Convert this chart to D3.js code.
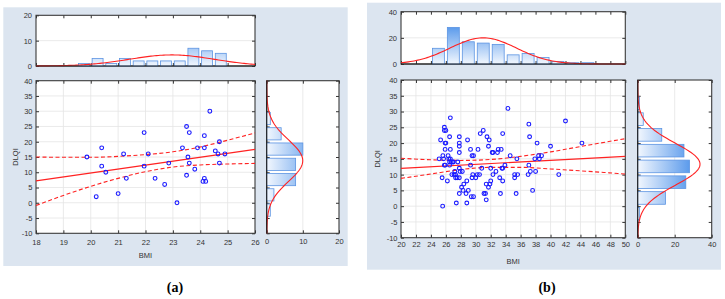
<!DOCTYPE html>
<html>
<head>
<meta charset="utf-8">
<script src="https://cdn.jsdelivr.net/npm/d3@7"></script>
<style>
body { margin: 0; background: #fff; }
svg { display: block; font-family: "Liberation Sans", Arial, sans-serif; }
.lbl { font-size: 7.5px; fill: #333; }
.caption { font-family: "Liberation Serif", "Times New Roman", serif; font-size: 14px; font-weight: bold; fill: #000; }
</style>
</head>
<body>
<script>
// ---- panel (a) ----
var bmiA = [19.86, 20.2, 20.4, 20.4, 20.55, 21.0, 21.2, 21.3, 21.95, 21.95, 22.1, 22.35, 22.7, 22.85, 23.15, 23.35, 23.5,
    23.5, 23.55, 23.6, 23.6, 23.8, 23.9, 24.15, 24.15, 24.15, 24.1, 24.2, 24.35, 24.55, 24.7, 24.65, 24.7, 24.9];
var dlqiA = [15, 2, 18, 12, 10, 3, 16, 8, 23, 12, 16, 8, 6, 13, 0, 18, 25,
    9, 15, 23, 13, 11, 18, 22, 18, 8, 7, 7, 30, 17, 20, 16, 13, 16];
var bmiBinsA = [19.5, 20, 20.5, 21, 21.5, 22, 22.5, 23, 23.5, 24, 24.5];
var bmiCountsA = [1, 3, 1, 3, 2, 2, 2, 2, 7, 6, 5];
var dlqiBinsA = [-5, 0, 5, 10, 15, 20, 25];
var dlqiCountsA = [1, 2, 8, 8, 10, 4, 1];
var fitA = [[18, 7.2], [26, 17.5]];
var ciXA = [18, 19, 20, 21, 22, 23, 24, 25, 26];
var ciHiA = [15.0, 14.9, 14.9, 15.2, 15.8, 16.7, 18.3, 20.5, 22.9];
var ciLoA = [-0.9, 2.4, 5.4, 8.0, 10.2, 11.7, 12.4, 12.7, 12.9];
var normBmiA = [22.96, 1.55];   // mean, sd
var normDlqiA = [13.8, 6.8];

// ---- panel (b) ----
var bmiB = [25.57, 25.3, 25.5, 25.1, 25.6, 25.8, 25.8, 26.0, 25.9, 26.0, 25.9, 25.8, 25.9, 25.7, 26.2, 26.3, 26.4, 26.5, 26.6, 26.6,
    26.6, 26.5, 26.7, 26.5, 26.9, 26.8, 27.0, 27.1, 27.2, 27.3, 27.3, 27.4, 27.5, 27.6, 27.8, 27.8, 27.8, 27.8, 27.8, 27.8,
    27.8, 27.9, 28.1, 28.2, 28.3, 28.4, 28.7, 28.8, 28.8, 28.9, 29.0, 29.3, 29.3, 29.5, 29.5, 29.4, 29.6, 29.7, 29.7, 30.0,
    30.2, 30.3, 30.5, 30.6, 30.8, 31.0, 31.1, 31.3, 31.4, 31.4, 31.5, 31.7, 31.7, 31.8, 31.9, 32.0, 32.0, 32.2, 32.3, 32.3,
    32.7, 32.9, 33.0, 33.2, 33.3, 33.4, 33.5, 33.6, 33.6, 33.6, 33.9, 34.3, 34.6, 35.2, 35.2, 35.4, 35.5, 35.6, 37.1, 37.2,
    37.1, 37.0, 37.3, 37.6, 37.9, 38.0, 38.2, 38.4, 38.5, 38.8, 40.0, 41.1, 42.0, 44.2];
var dlqiB = [0, 21, 9, 15, 16, 25, 24, 24, 20, 20, 18, 13, 13, 15, 8, 16, 15, 22, 28, 18,
    15, 14, 14, 13, 14, 10, 14, 10, 11, 10, 9, 1, 9, 14, 4, 17, 19, 20, 22, 9,
    12, 11, 6, 11, 5, 7, 4, 1, 8, 21, 5, 13, 18, 16, 9, 3, 10, 16, 3, 9,
    10, 18, 10, 23, 12, 24, 4, 4, 7, 2, 22, 6, 19, 21, 7, 12, 8, 17, 17, 10,
    11, 17, 18, 9, 4, 18, 12, 23, 8, 12, 13, 31, 16, 10, 9, 4, 15, 10, 26, 22,
    13, 10, 11, 5, 15, 11, 20, 16, 15, 16, 19, 10, 27, 20];
var bmiBinsB = [24, 26, 28, 30, 32, 34, 36, 38, 40, 42, 44];
var bmiCountsB = [12, 28, 17, 16, 15, 7, 8, 5, 2, 1, 1];
var dlqiBinsB = [-5, 0, 5, 10, 15, 20, 25, 30];
var dlqiCountsB = [1, 15, 26, 28, 25, 13, 3, 1];
var fitB = [[20, 12.0], [50, 15.8]];
var ciXB = [20, 24, 28, 32, 36, 40, 44, 50];
var ciHiB = [15.2, 14.7, 14.5, 14.8, 15.8, 17.2, 18.9, 21.4];
var ciLoB = [8.8, 10.2, 11.6, 12.3, 12.3, 11.8, 11.2, 10.2];
var normBmiB = [31.0, 4.47];
var normDlqiB = [13.3, 6.63];

var svg = d3.select('body').append('svg')
    .attr('width', 725)
    .attr('height', 299);
var defs = svg.append('defs');

function density(norm, n, bw) {
    return function (v) {
        return n * bw / (norm[1] * Math.sqrt(2 * Math.PI)) * Math.exp(-0.5 * Math.pow((v - norm[0]) / norm[1], 2));
    };
}

function fmt(d) { return String(d); }

// white plot box with grid, inward ticks on all sides and a border
function frame(g, box, xs, ys, o) {
    g.append('rect')
        .attr('x', box.x0).attr('y', box.y0)
        .attr('width', box.x1 - box.x0).attr('height', box.y1 - box.y0)
        .attr('fill', '#fff');

    g.selectAll(null).data(o.xGrid || []).enter().append('line')
        .attr('x1', xs).attr('x2', xs).attr('y1', box.y0).attr('y2', box.y1)
        .attr('stroke', '#e4e4e4').attr('stroke-width', 0.8);
    g.selectAll(null).data(o.yGrid || []).enter().append('line')
        .attr('y1', ys).attr('y2', ys).attr('x1', box.x0).attr('x2', box.x1)
        .attr('stroke', '#e4e4e4').attr('stroke-width', 0.8);

    var axes = [
        [d3.axisBottom(xs), 'translate(0,' + box.y1 + ')', o.xTicks, o.xLabels, o.xPad],
        [d3.axisTop(xs), 'translate(0,' + box.y0 + ')', o.xTicks, false, 0],
        [d3.axisLeft(ys), 'translate(' + box.x0 + ',0)', o.yTicks, o.yLabels, o.yPad],
        [d3.axisRight(ys), 'translate(' + box.x1 + ',0)', o.yTicks, false, 0]
    ];
    axes.forEach(function (a) {
        var ax = g.append('g')
            .attr('transform', a[1])
            .call(a[0].tickValues(a[2]).tickSize(-3).tickPadding(a[4] || 3).tickFormat(a[3] ? fmt : ''));
        ax.select('.domain').remove();
        ax.selectAll('line').attr('stroke', '#333');
        ax.selectAll('text').attr('class', 'lbl').attr('fill', null).style('font-family', null).style('font-size', null);
        ax.attr('font-family', null).attr('font-size', null);
    });

    g.append('rect')
        .attr('x', box.x0).attr('y', box.y0)
        .attr('width', box.x1 - box.x0).attr('height', box.y1 - box.y0)
        .attr('fill', 'none').attr('stroke', '#3a3a3a').attr('stroke-width', 1.1);
}

function gradient(id, x1, y1, x2, y2) {
    var lg = defs.append('linearGradient').attr('id', id)
        .attr('gradientUnits', 'userSpaceOnUse')
        .attr('x1', x1).attr('y1', y1).attr('x2', x2).attr('y2', y2);
    lg.append('stop').attr('offset', 0).attr('stop-color', '#1c74e4');
    lg.append('stop').attr('offset', 1).attr('stop-color', '#f2f7fe');
}

function panel(c) {
    var g = svg.append('g');
    g.append('rect')
        .attr('x', c.bg[0]).attr('y', c.bg[1]).attr('width', c.bg[2]).attr('height', c.bg[3])
        .attr('fill', '#dce5f0');

    var xs = d3.scaleLinear().domain(c.xDomain).range([c.main.x0, c.main.x1]);
    var ys = d3.scaleLinear().domain([-10, 40]).range([c.main.y1, c.main.y0]);
    var hy = d3.scaleLinear().domain([0, c.topMax]).range([c.top.y1, c.top.y0]);
    var vx = d3.scaleLinear().domain([0, c.rightMax]).range([c.right.x0, c.right.x1]);
    var yTicks = d3.range(-10, 41, 5);

    // ---- top histogram (BMI) ----
    var gt = g.append('g');
    frame(gt, c.top, xs, hy, {
        xTicks: c.xTicks, xLabels: false,
        yTicks: c.topTicks, yLabels: true, yPad: 4,
        yGrid: c.topTicks.slice(1, -1)
    });
    gradient(c.id + 'gt', 0, hy(c.topMax), 0, hy(0));
    var bwT = c.bmiBins[1] - c.bmiBins[0];
    gt.selectAll('.bar').data(c.bmiBins).enter().append('rect')
        .attr('x', function (d) { return xs(d + bwT * 0.1); })
        .attr('width', function (d) { return xs(d + bwT * 0.9) - xs(d + bwT * 0.1); })
        .attr('y', function (d, i) { return hy(c.bmiCounts[i]); })
        .attr('height', function (d, i) { return hy(0) - hy(c.bmiCounts[i]); })
        .attr('fill', 'url(#' + c.id + 'gt)')
        .attr('stroke', '#5c94e2').attr('stroke-width', 0.8);
    var nT = d3.sum(c.bmiCounts);
    var fT = density(c.normBmi, nT, bwT);
    gt.append('path')
        .datum(d3.range(c.xDomain[0], c.xDomain[1] + 0.001, (c.xDomain[1] - c.xDomain[0]) / 120))
        .attr('d', d3.line().x(function (d) { return xs(d); }).y(function (d) { return hy(fT(d)); }))
        .attr('fill', 'none').attr('stroke', '#f22').attr('stroke-width', 1.1);
    gt.append('line')
        .attr('x1', c.top.x0).attr('x2', c.top.x1).attr('y1', c.top.y1).attr('y2', c.top.y1)
        .attr('stroke', '#222').attr('stroke-width', 1.2);

    // ---- scatter ----
    var gm = g.append('g');
    frame(gm, c.main, xs, ys, {
        xTicks: c.xTicks, xLabels: true, xPad: c.xPad,
        yTicks: yTicks, yLabels: true, yPad: 3.5,
        xGrid: c.xTicks.slice(1, -1), yGrid: yTicks.slice(1, -1)
    });
    var line = d3.line().x(function (d) { return xs(d[0]); }).y(function (d) { return ys(d[1]); });
    var band = d3.line().curve(d3.curveMonotoneX)
        .x(function (d) { return xs(d[0]); }).y(function (d) { return ys(d[1]); });
    [c.ciHi, c.ciLo].forEach(function (arr) {
        gm.append('path')
            .datum(c.ciX.map(function (x, i) { return [x, arr[i]]; }))
            .attr('d', band)
            .attr('fill', 'none').attr('stroke', '#f22').attr('stroke-width', 1.1)
            .attr('stroke-dasharray', '4,2.5');
    });
    gm.append('path').datum(c.fit).attr('d', line)
        .attr('fill', 'none').attr('stroke', '#f22').attr('stroke-width', 1.2);
    gm.selectAll('circle').data(c.bmi).enter().append('circle')
        .attr('cx', function (d) { return xs(d); })
        .attr('cy', function (d, i) { return ys(c.dlqi[i]); })
        .attr('r', 1.9)
        .attr('fill', 'none').attr('stroke', '#1a1aff').attr('stroke-width', 1.1);

    gm.append('text').attr('class', 'lbl')
        .attr('x', (c.main.x0 + c.main.x1) / 2).attr('y', c.bmiTitleY)
        .style('text-anchor', 'middle')
        .text('BMI');
    gm.append('text').attr('class', 'lbl')
        .attr('transform', 'translate(' + c.dlqiTitleX + ',' + ((c.main.y0 + c.main.y1) / 2) + ') rotate(-90)')
        .attr('dy', '0.35em')
        .style('text-anchor', 'middle')
        .text('DLQI');

    // ---- right histogram (DLQI) ----
    var gr = g.append('g');
    var rbox = { x0: c.right.x0, x1: c.right.x1, y0: c.main.y0, y1: c.main.y1 };
    frame(gr, rbox, vx, ys, {
        xTicks: c.rightTicks, xLabels: true, xPad: c.rPad,
        yTicks: yTicks, yLabels: false,
        xGrid: c.rightTicks.slice(1, -1)
    });
    gradient(c.id + 'gr', vx(c.rightMax), 0, vx(0), 0);
    var bwR = c.dlqiBins[1] - c.dlqiBins[0];
    gr.selectAll('.bar').data(c.dlqiBins).enter().append('rect')
        .attr('y', function (d) { return ys(d + bwR * 0.92); })
        .attr('height', function (d) { return ys(d + bwR * 0.12) - ys(d + bwR * 0.92); })
        .attr('x', vx(0))
        .attr('width', function (d, i) { return vx(c.dlqiCounts[i]) - vx(0); })
        .attr('fill', 'url(#' + c.id + 'gr)')
        .attr('stroke', '#5c94e2').attr('stroke-width', 0.8);
    var nR = d3.sum(c.dlqiCounts);
    var fR = density(c.normDlqi, nR, bwR);
    gr.append('path')
        .datum(d3.range(-10, 40.001, 0.5))
        .attr('d', d3.line().y(function (d) { return ys(d); }).x(function (d) { return vx(fR(d)); }))
        .attr('fill', 'none').attr('stroke', '#f22').attr('stroke-width', 1.1);
    gr.append('line')
        .attr('x1', rbox.x0).attr('x2', rbox.x0).attr('y1', rbox.y0).attr('y2', rbox.y1)
        .attr('stroke', '#222').attr('stroke-width', 1.2);

    svg.append('text').attr('class', 'caption')
        .attr('x', c.captionX).attr('y', 292)
        .style('text-anchor', 'middle')
        .text(c.caption);
}

panel({
    id: 'a', caption: '(a)', captionX: 175,
    bg: [3.3, 7.3, 344.4, 258.7],
    top: { x0: 36, x1: 255, y0: 15.3, y1: 66 },
    main: { x0: 36, x1: 255, y0: 80.7, y1: 233.3 },
    right: { x0: 266.7, x1: 339 },
    xDomain: [18, 26], xTicks: d3.range(18, 27, 1), xPad: 6,
    topMax: 20, topTicks: [0, 10, 20],
    rightMax: 20, rightTicks: [0, 10, 20], rPad: 5.5,
    bmiTitleY: 258, dlqiTitleX: 15,
    bmi: bmiA, dlqi: dlqiA,
    bmiBins: bmiBinsA, bmiCounts: bmiCountsA,
    dlqiBins: dlqiBinsA, dlqiCounts: dlqiCountsA,
    fit: fitA, ciX: ciXA, ciHi: ciHiA, ciLo: ciLoA,
    normBmi: normBmiA, normDlqi: normDlqiA
});

panel({
    id: 'b', caption: '(b)', captionX: 547,
    bg: [367, 2.7, 354, 267],
    top: { x0: 401, x1: 625.3, y0: 11.7, y1: 64 },
    main: { x0: 401, x1: 625.3, y0: 80, y1: 237.7 },
    right: { x0: 637.7, x1: 711.7 },
    xDomain: [20, 50], xTicks: d3.range(20, 51, 2), xPad: 4,
    topMax: 40, topTicks: [0, 20, 40],
    rightMax: 40, rightTicks: [0, 20, 40], rPad: 4,
    bmiTitleY: 264, dlqiTitleX: 377,
    bmi: bmiB, dlqi: dlqiB,
    bmiBins: bmiBinsB, bmiCounts: bmiCountsB,
    dlqiBins: dlqiBinsB, dlqiCounts: dlqiCountsB,
    fit: fitB, ciX: ciXB, ciHi: ciHiB, ciLo: ciLoB,
    normBmi: normBmiB, normDlqi: normDlqiB
});
</script>
</body>
</html>
